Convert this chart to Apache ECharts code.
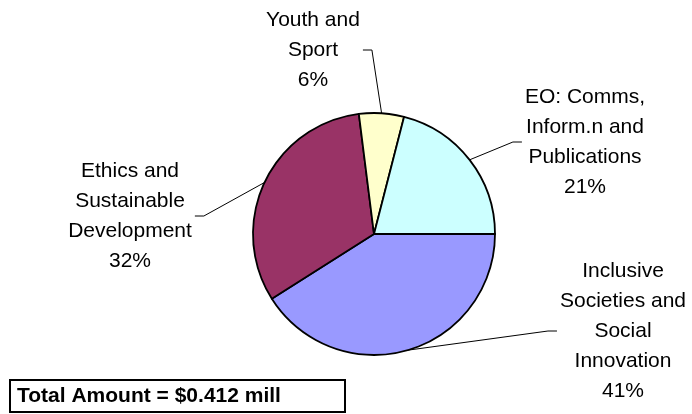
<!DOCTYPE html>
<html>
<head>
<meta charset="utf-8">
<script src="https://cdn.jsdelivr.net/npm/echarts@6/dist/echarts.min.js"></script>
<style>
  html, body { margin: 0; padding: 0; background: #ffffff; }
  #chart { width: 692px; height: 414px; }
</style>
</head>
<body>
<div id="chart"></div>
<script>
// ---- Data ----
const categories = [
  'Inclusive\nSocieties and\nSocial\nInnovation',
  'Ethics and\nSustainable\nDevelopment',
  'Youth and\nSport',
  'EO: Comms,\nInform.n and\nPublications'
];
const shares = [41, 32, 6, 21];
const totalLabel = 'Total Amount = $0.412 mill';

// ---- Styles / layout ----
const sliceColors = ['#9999FF', '#993366', '#FFFFCC', '#CCFFFF'];
const labelCenters = [[623, 331], [130, 216], [313, 50], [585, 142]];
const pieCenter = [374, 234];
const FONT = '"Liberation Sans", Arial, sans-serif';

const chart = echarts.init(document.getElementById('chart'), null, { renderer: 'canvas' });

chart.setOption({
  animation: false,
  backgroundColor: '#ffffff',
  series: [{
    type: 'pie',
    center: pieCenter,
    radius: 121,
    startAngle: 0,
    clockwise: true,
    avoidLabelOverlap: false,
    percentPrecision: 0,
    emphasis: { disabled: true },
    itemStyle: { borderColor: '#000000', borderWidth: 1.8 },
    label: {
      show: true,
      position: 'outside',
      formatter: p => p.name + '\n' + p.percent + '%',
      fontFamily: FONT,
      fontSize: 21,
      lineHeight: 30,
      color: '#000000',
      align: 'center'
    },
    labelLine: {
      show: true,
      length: 10,
      length2: 10,
      lineStyle: { color: '#000000', width: 1 }
    },
    labelLayout: function (params) {
      const c = labelCenters[params.dataIndex];
      const w = params.labelRect.width;
      const onLeft = c[0] < pieCenter[0];
      const endX = onLeft ? c[0] + w / 2 + 3 : c[0] - w / 2 - 3;
      const bendX = onLeft ? endX + 9 : endX - 9;
      const p0 = params.labelLinePoints ? params.labelLinePoints[0] : [bendX, c[1]];
      return {
        x: c[0],
        y: c[1],
        align: 'center',
        verticalAlign: 'middle',
        labelLinePoints: [p0, [bendX, c[1]], [endX, c[1]]]
      };
    },
    data: categories.map((name, i) => ({
      name: name,
      value: shares[i],
      itemStyle: { color: sliceColors[i] }
    }))
  }],
  graphic: [
    {
      type: 'rect',
      shape: { x: 10, y: 380, width: 335, height: 32 },
      style: { fill: '#ffffff', stroke: '#000000', lineWidth: 2 }
    },
    {
      type: 'text',
      x: 17,
      y: 396,
      style: {
        text: totalLabel,
        font: 'bold 21px ' + FONT,
        fill: '#000000',
        textVerticalAlign: 'middle',
        verticalAlign: 'middle'
      }
    }
  ]
});
</script>
</body>
</html>
